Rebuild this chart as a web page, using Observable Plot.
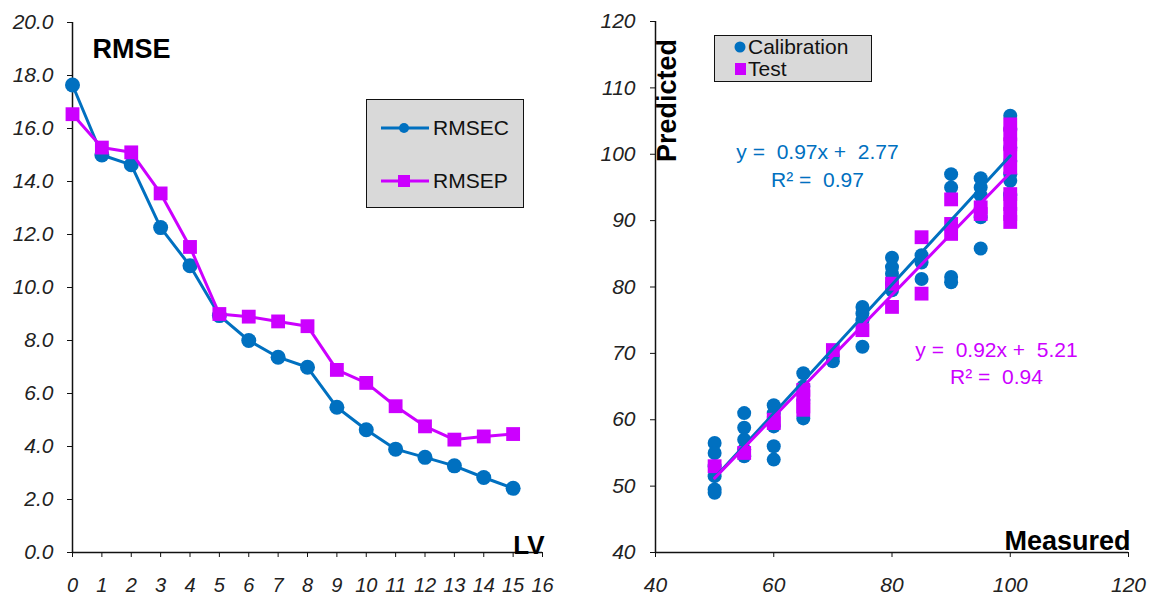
<!DOCTYPE html>
<html><head><meta charset="utf-8">
<script src="https://cdn.jsdelivr.net/npm/d3@7"></script>
<script src="https://cdn.jsdelivr.net/npm/@observablehq/plot@0.6"></script>
<style>
body{margin:0;background:#fff;font-family:"Liberation Sans",Arial,sans-serif;}
#wrap{position:relative;width:1149px;height:600px;display:flex;}
#wrap svg{overflow:visible;}
#wrap svg text{white-space:pre;}
.legend{position:absolute;background:#d9d9d9;border:1.5px solid #111;box-sizing:border-box;color:#111;}
.row{position:absolute;display:flex;align-items:center;font-size:21px;line-height:22px;white-space:nowrap;}
</style>
</head><body>
<div id="wrap">
  <div id="left"></div>
  <div id="right"></div>
  <div class="legend" style="left:366px;top:99px;width:158px;height:109px;">
    <div class="row" style="left:13px;top:17px;"><svg width="50" height="20"><line x1="1" y1="10" x2="49" y2="10" stroke="#0070c0" stroke-width="3"/><circle cx="24" cy="10" r="5" fill="#0070c0"/></svg><span style="margin-left:3px">RMSEC</span></div>
    <div class="row" style="left:13px;top:70px;"><svg width="50" height="20"><line x1="1" y1="10" x2="49" y2="10" stroke="#cc00ff" stroke-width="3"/><rect x="18" y="4" width="12" height="12" fill="#cc00ff"/></svg><span style="margin-left:3px">RMSEP</span></div>
  </div>
  <div class="legend" style="left:714px;top:35px;width:158px;height:47px;">
    <div class="row" style="left:19px;top:0px;"><svg width="14" height="22"><circle cx="6" cy="11" r="5.5" fill="#0070c0"/></svg><span>Calibration</span></div>
    <div class="row" style="left:19px;top:22px;"><svg width="14" height="22"><rect x="1" y="5" width="11" height="12" fill="#cc00ff"/></svg><span>Test</span></div>
  </div>
</div>
<script>
// ---------- Left chart data (RMSE vs LV) ----------
const lvValues = [0,1,2,3,4,5,6,7,8,9,10,11,12,13,14,15];
const rmsecValues = [17.64,15.0,14.63,12.26,10.82,8.94,8.0,7.37,6.99,5.48,4.63,3.9,3.59,3.27,2.83,2.42];
const rmsepValues = [16.54,15.28,15.1,13.55,11.53,9.0,8.9,8.72,8.54,6.89,6.4,5.52,4.76,4.26,4.38,4.47];
const leftXTicks = [0,1,2,3,4,5,6,7,8,9,10,11,12,13,14,15,16];
const leftYTicks = [0,2,4,6,8,10,12,14,16,18,20];

// ---------- Right chart data (Predicted vs Measured) ----------
const calMeasured = [50,50,50,50,50,50, 55,55,55,55,55, 60,60,60,60,60, 65,65,65,65, 70,70, 75,75,75,75, 80,80,80,80,80, 85,85,85, 90,90,90,90, 95,95,95,95,95, 100,100,100,100,100,100,100,100];
const calPredicted = [56.5,55,53,51.5,49.5,49, 61,58.8,57,55.5,54.5, 62.2,61,59,56,54, 67,65,63,60.2, 69.5,68.8, 77,76,75,71, 84.4,83,82,80.5,79.5, 84.8,83.7,81.2, 97,95,81.5,80.7, 96.4,95,93.8,90.5,85.8, 105.8,103.8,101,99,97,96,94,93.8];
const testMeasured = [50, 55, 60,60, 65,65,65,65, 70, 75, 80,80, 85,85, 90,90,90, 95,95, 100,100,100,100,100,100,100,100,100];
const testPredicted = [53, 55, 60,59.5, 64.5,63.5,62,61.5, 70.5, 73.5, 80.5,77, 87.5,79, 93.2,89.5,88, 92,91, 104.5,103,101.5,100,98,94,92.5,91,89.8];
const fitNames = ["Calibration","Test"];
const fitSlopes = [0.97, 0.92];
const fitIntercepts = [2.77, 5.21];
const fitR2 = [0.97, 0.94];
const rightTicks = [40,60,80,100,120];
const rightYTicks = [40,50,60,70,80,90,100,110,120];

const BLUE = "#0070c0", MAG = "#cc00ff", INK = "#111";
const FONT = "'Liberation Sans', Arial, sans-serif";

const calRows = lvValues.map((v,i)=>({lv:v, rmse:rmsecValues[i]}));
const testRows = lvValues.map((v,i)=>({lv:v, rmse:rmsepValues[i]}));

const left = Plot.plot({
  width: 580, height: 600,
  marginLeft: 72, marginRight: 38, marginTop: 22, marginBottom: 48,
  style: {fontFamily: FONT, color: INK, background: "transparent", overflow: "visible"},
  x: {domain: [0,16]},
  y: {domain: [0,20]},
  marks: [
    Plot.axisY({ticks: leftYTicks, tickFormat: d => d.toFixed(1), tickSize: 5, tickPadding: 14, fontSize: 21, fontStyle: "italic", fill: "#222", label: null}),
    Plot.axisX({ticks: leftXTicks, tickFormat: d => String(d), tickSize: 5, tickPadding: 20, fontSize: 20, fontStyle: "italic", fill: "#222", label: null}),
    Plot.ruleX([0], {stroke: INK, strokeWidth: 1.5}),
    Plot.ruleY([0], {stroke: INK, strokeWidth: 1.5}),
    Plot.line(calRows, {x: "lv", y: "rmse", stroke: BLUE, strokeWidth: 3}),
    Plot.dot(calRows, {x: "lv", y: "rmse", r: 7.5, fill: BLUE, symbol: "circle"}),
    Plot.line(testRows, {x: "lv", y: "rmse", stroke: MAG, strokeWidth: 3}),
    Plot.dot(testRows, {x: "lv", y: "rmse", r: 7.8, fill: MAG, symbol: "square"}),
    Plot.text(["RMSE"], {frameAnchor: "top-left", dx: 20, dy: 35, textAnchor: "start", lineAnchor: "bottom", fontSize: 27, fontWeight: "bold", fill: "#000"}),
    Plot.text(["LV"], {frameAnchor: "bottom-right", dx: 2, dy: 1, textAnchor: "end", lineAnchor: "bottom", fontSize: 26, fontWeight: "bold", fill: "#000"})
  ]
});
document.getElementById("left").append(left);

const calPts = calMeasured.map((m,i)=>({m, p: calPredicted[i]}));
const testPts = testMeasured.map((m,i)=>({m, p: testPredicted[i]}));
const fitLines = fitNames.flatMap((name,k)=>{
  const xs = k === 0 ? calMeasured : testMeasured;
  const lo = d3.min(xs), hi = d3.max(xs);
  return [lo,hi].map(x => ({name, m: x, p: fitSlopes[k]*x + fitIntercepts[k]}));
});
const eq = k => `y =  ${fitSlopes[k].toFixed(2)}x +  ${fitIntercepts[k].toFixed(2)}`;
const r2 = k => `R² =  ${fitR2[k].toFixed(2)}`;

const right = Plot.plot({
  width: 569, height: 600,
  marginLeft: 75, marginRight: 21, marginTop: 21, marginBottom: 48,
  style: {fontFamily: FONT, color: INK, background: "transparent", overflow: "visible"},
  x: {domain: [40,120]},
  y: {domain: [40,120]},
  marks: [
    Plot.axisY({ticks: rightYTicks, tickSize: 5, tickPadding: 15, fontSize: 21, fontStyle: "italic", fill: "#222", label: null}),
    Plot.axisX({ticks: rightTicks, tickSize: 5, tickPadding: 20, fontSize: 21, fontStyle: "italic", fill: "#222", label: null}),
    Plot.ruleX([40], {stroke: INK, strokeWidth: 1.5}),
    Plot.ruleY([40], {stroke: INK, strokeWidth: 1.5}),
    Plot.dot(calPts, {x: "m", y: "p", r: 7, fill: BLUE, symbol: "circle"}),
    Plot.dot(testPts, {x: "m", y: "p", r: 7.8, fill: MAG, symbol: "square"}),
    Plot.line(fitLines.filter(d=>d.name==="Calibration"), {x: "m", y: "p", stroke: BLUE, strokeWidth: 3}),
    Plot.line(fitLines.filter(d=>d.name==="Test"), {x: "m", y: "p", stroke: MAG, strokeWidth: 3}),
    Plot.text([eq(0)], {frameAnchor: "top-left", dx: 162, dy: 137, textAnchor: "middle", lineAnchor: "bottom", fontSize: 21, fill: BLUE}),
    Plot.text([r2(0)], {frameAnchor: "top-left", dx: 162, dy: 165, textAnchor: "middle", lineAnchor: "bottom", fontSize: 21, fill: BLUE}),
    Plot.text([eq(1)], {frameAnchor: "top-left", dx: 341, dy: 335, textAnchor: "middle", lineAnchor: "bottom", fontSize: 21, fill: MAG}),
    Plot.text([r2(1)], {frameAnchor: "top-left", dx: 341, dy: 362, textAnchor: "middle", lineAnchor: "bottom", fontSize: 21, fill: MAG}),
    Plot.text(["Predicted"], {frameAnchor: "top-left", dx: 20, dy: 79, rotate: -90, textAnchor: "middle", lineAnchor: "bottom", fontSize: 27, fontWeight: "bold", fill: "#000"}),
    Plot.text(["Measured"], {frameAnchor: "bottom-right", dx: 2, dy: -3, textAnchor: "end", lineAnchor: "bottom", fontSize: 27, fontWeight: "bold", fill: "#000"})
  ]
});
document.getElementById("right").append(right);
</script>
</body></html>
